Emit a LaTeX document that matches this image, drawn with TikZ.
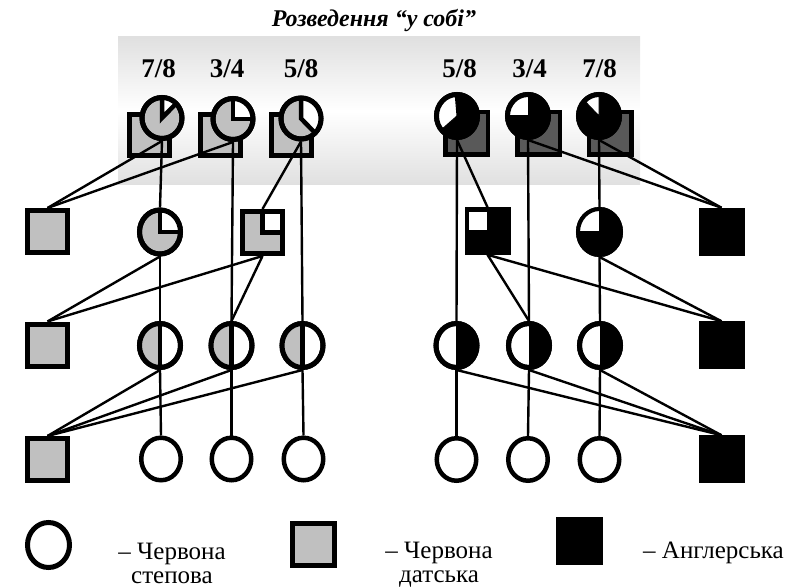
\documentclass[tikz,border=0pt]{standalone}
\usepackage{fontspec}
\setmainfont{Liberation Serif}
\usetikzlibrary{shapes.geometric}
\definecolor{lg}{HTML}{C0C0C0}
\definecolor{dg}{HTML}{595959}
\definecolor{bgg}{HTML}{E0E0E0}
% white wedge inside a pie node: #1 node, #2/#3 angles, #4/#5 radii, #6 edge width, #7 outline width
\newcommand\pieW[7]{%
  \fill[white] (#1.center) -- ++(#2:#4 and #5) arc[start angle=#2, end angle=#3, x radius=#4, y radius=#5] -- cycle;
  \draw[line width=#6] (#1.center) ++(#2:#4 and #5) -- (#1.center) -- ++(#3:#4 and #5);
  \draw[line width=#7] (#1.center) ellipse[x radius=#4, y radius=#5];}
% half-filled circle: #1 node, #2 colour, #3/#4 angles, #5/#6 radii, #7 bar width
\newcommand\halfC[7]{%
  \fill[#2] (#1.center) -- ++(#3:#5 and #6) arc[start angle=#3, end angle=#4, x radius=#5, y radius=#6] -- cycle;
  \draw[line width=#7] (#1.center) ++(0,#6) -- ++(0,-2*#6);
  \draw[line width=5pt] (#1.center) ellipse[x radius=#5, y radius=#6];}
\begin{document}
\begin{tikzpicture}[x=1pt,y=1pt,
  conn/.style={line width=2.4pt},
  sqbase/.style={rectangle, inner sep=0pt},
  lgsq/.style={sqbase, draw=black, line width=5pt, fill=lg, minimum width=40pt, minimum height=41pt},
  lgsqb/.style={sqbase, draw=black, line width=5pt, fill=lg, minimum width=40pt, minimum height=42pt},
  dgsq/.style={sqbase, draw=black, line width=4.5pt, fill=dg, minimum width=42.5pt, minimum height=42.5pt},
  blsq/.style={sqbase, draw=black, line width=0.5pt, fill=black, minimum width=45pt, minimum height=47pt},
  pieL/.style={ellipse, inner sep=0pt, draw=black, line width=5pt, fill=lg, minimum width=40pt, minimum height=41pt},
  pieR/.style={ellipse, inner sep=0pt, draw=black, line width=5pt, fill=black, minimum width=41pt, minimum height=43pt},
  midc/.style={ellipse, inner sep=0pt, draw=black, line width=5pt, fill=white, minimum width=41pt, minimum height=44pt},
  lowc/.style={ellipse, inner sep=0pt, draw=black, line width=4.5pt, fill=white, minimum width=39.5pt, minimum height=42.5pt},
  frac/.style={font=\fontsize{27}{29}\selectfont\bfseries, anchor=base, inner sep=0pt},
  leg/.style={font=\fontsize{25}{24}\selectfont, inner sep=0pt, align=center}]
\useasboundingbox (0,0) rectangle (806,-588);
% background band
\shade[top color=bgg, bottom color=bgg, middle color=white] (118,-37) rectangle (640,-185);
% title
\node[font=\fontsize{24}{26}\selectfont\bfseries\itshape, anchor=base, inner sep=0pt] (title) at (374,-27) {Розведення “у собі”};
% fractions
\node[frac] (fL1) at (158.5,-78) {7/8};
\node[frac] (fL2) at (227,-78) {3/4};
\node[frac] (fL3) at (301,-78) {5/8};
\node[frac] (fR1) at (459.5,-78) {5/8};
\node[frac] (fR2) at (529.5,-78) {3/4};
\node[frac] (fR3) at (599.5,-78) {7/8};
% top squares
\node[lgsq] (sL1) at (149.5,-135) {};
\node[lgsq] (sL2) at (220.5,-135) {};
\node[lgsq] (sL3) at (291.5,-135) {};
\node[dgsq] (sR1) at (466.5,-133.5) {};
\node[dgsq] (sR2) at (538.5,-133.5) {};
\node[dgsq] (sR3) at (610,-133.5) {};
% top circles
\node[pieL] (cL1) at (162,-118) {};
\pieW{cL1}{45}{90}{20}{20.5}{4.5pt}{5pt}
\node[pieL] (cL2) at (233,-119) {};
\pieW{cL2}{0}{90}{20}{20.5}{4.5pt}{5pt}
\node[pieL] (cL3) at (301,-118.5) {};
\pieW{cL3}{-45}{90}{20}{20.5}{4.5pt}{5pt}
\node[pieR] (cR1) at (457,-116) {};
\pieW{cR1}{95}{220}{20.5}{21.5}{1pt}{5pt}
\node[pieR] (cR2) at (528,-116) {};
\pieW{cR2}{90}{180}{20.5}{21.5}{1pt}{5pt}
\node[pieR] (cR3) at (599,-116) {};
\pieW{cR3}{90}{135}{20.5}{21.5}{1pt}{5pt}
% row 2
\node[lgsqb] (sqA) at (47.5,-231.5) {};
\node[midc, fill=lg] (cA) at (160,-232) {};
\pieW{cA}{0}{90}{20.5}{22}{4.5pt}{5pt}
\node[lgsqb] (sqB) at (262.5,-232.5) {};
\draw[line width=5pt, fill=white] (sqB.center) rectangle ++(20,21);
\node[blsq] (sqE) at (487.5,-231) {};
\fill[white] (sqE.center) ++(-18.5,19) rectangle ++(18,-18);
\node[midc, fill=black, line width=4pt, minimum width=43pt, minimum height=46pt] (cD) at (599.5,-232) {};
\pieW{cD}{90}{180}{21.5}{23}{1pt}{4pt}
\node[blsq] (sqF) at (721.5,-231.5) {};
% row 3
\node[lgsqb] (sqC) at (47.5,-345) {};
\node[midc] (cB1) at (160,-345.5) {};
\halfC{cB1}{lg}{90}{270}{20.5}{22}{4.5pt}
\node[midc] (cB2) at (231.5,-345.5) {};
\halfC{cB2}{lg}{90}{270}{20.5}{22}{4.5pt}
\node[midc] (cB3) at (302.5,-345.5) {};
\halfC{cB3}{lg}{90}{270}{20.5}{22}{4.5pt}
\node[midc] (cE1) at (456.5,-345.5) {};
\halfC{cE1}{black}{-90}{90}{20.5}{22}{1pt}
\node[midc] (cE2) at (529,-345.5) {};
\halfC{cE2}{black}{-90}{90}{20.5}{22}{1pt}
\node[midc] (cE3) at (600,-345.5) {};
\halfC{cE3}{black}{-90}{90}{20.5}{22}{1pt}
\node[blsq] (sqG) at (721.5,-345) {};
% row 4
\node[lgsqb] (sqD) at (47.5,-459.5) {};
\node[lowc] (cC1) at (161,-459) {};
\node[lowc] (cC2) at (231.5,-459) {};
\node[lowc] (cC3) at (303.5,-459) {};
\node[lowc] (cF1) at (456.5,-459.5) {};
\node[lowc] (cF2) at (528,-459.5) {};
\node[lowc] (cF3) at (599.5,-459.5) {};
\node[blsq] (sqH) at (721.5,-459) {};
% connectors left
\draw[conn] (cL1.south) -- (sqA.north);
\draw[conn] (cL2.south) -- (sqA.north);
\draw[conn] (cL1.south) -- (cA.north);
\draw[conn] (cL3.south) -- (sqB.north);
\draw[conn] (cL2.south) -- (cB2.north);
\draw[conn] (cL3.south) -- (cB3.north);
\draw[conn] (cA.south) -- (sqC.north);
\draw[conn] (sqB.south) -- (sqC.north);
\draw[conn] (cA.south) -- (cB1.north);
\draw[conn] (sqB.south) -- (cB2.north);
\draw[conn] (cB1.south) -- (sqD.north);
\draw[conn] (cB2.south) -- (sqD.north);
\draw[conn] (cB3.south) -- (sqD.north);
\draw[conn] (cB1.south) -- (cC1.north);
\draw[conn] (cB2.south) -- (cC2.north);
\draw[conn] (cB3.south) -- (cC3.north);
% connectors right
\draw[conn] (cR1.south) -- (sqE.north);
\draw[conn] (cR1.south) -- (cE1.north);
\draw[conn] (cR2.south) -- (cE2.north);
\draw[conn] (cR3.south) -- (cD.north);
\draw[conn] (cR2.south) -- (sqF.north);
\draw[conn] (cR3.south) -- (sqF.north);
\draw[conn] (sqE.south) -- (cE2.north);
\draw[conn] (sqE.south) -- (sqG.north);
\draw[conn] (cD.south) -- (sqG.north);
\draw[conn] (cD.south) -- (cE3.north);
\draw[conn] (cE1.south) -- (sqH.north);
\draw[conn] (cE2.south) -- (sqH.north);
\draw[conn] (cE3.south) -- (sqH.north);
\draw[conn] (cE1.south) -- (cF1.north);
\draw[conn] (cE2.south) -- (cF2.north);
\draw[conn] (cE3.south) -- (cF3.north);
% legend
\node[lowc, line width=5pt, minimum width=42pt, minimum height=45pt] (lc) at (48.5,-545) {};
\node[lgsq, minimum width=42pt, minimum height=42pt] (lsq) at (313.5,-544.5) {};
\node[blsq, minimum width=46pt, minimum height=47pt] (lbsq) at (579,-540.5) {};
\node[leg, anchor=north] (lt1) at (172,-542.5) {– Червона\\степова};
\node[leg, anchor=north] (lt2) at (439,-541.5) {– Червона\\датська};
\node[leg, anchor=base] (lt3) at (713.5,-558) {– Англерська};
\end{tikzpicture}
\end{document}
